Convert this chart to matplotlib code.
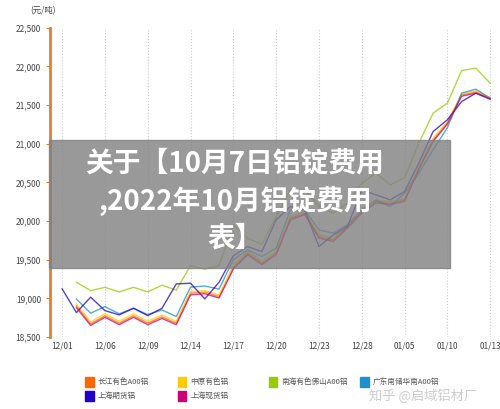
import matplotlib
matplotlib.use("Agg")
import matplotlib.pyplot as plt
from matplotlib.patches import Rectangle

plt.rcParams['font.family'] = ['Noto Sans CJK SC', 'DejaVu Sans']

dates = ["12/01", "12/06", "12/09", "12/14", "12/17", "12/20", "12/23", "12/28", "01/05", "01/10", "01/13"]
names = ["长江有色A00铝", "中原有色铝", "南海有色佛山A00铝", "广东南储华南A00铝", "上海期货铝", "上海现货铝"]
colors = ["#FF6600", "#FFCC00", "#99CC00", "#1E90CC", "#2200CC", "#CC0077"]

changjiang = [None, 18903, 18670, 18775, 18680, 18775, 18680, 18760, 18680, 19067, 19080, 19024, 19400,
              19584, 19455, 19584, 20037, 20102, 19800, 19757, 19930, 20123, 20253, 20231, 20274, 20685, 21050,
              21270, 21630, 21670, 21590]
zhongyuan = [None, 18925, 18695, 18800, 18705, 18800, 18705, 18785, 18705, 19090, 19100, 19045, 19420,
             19605, 19480, 19605, 20060, 20120, 19825, 19780, 19950, 20140, 20270, 20250, 20290, 20700, 21070,
             21285, 21645, 21685, 21600]
nanhai = [None, 19209, 19100, 19143, 19084, 19143, 19084, 19170, 19106, 19425, 19377, 19425, 19950,
          19778, 19700, 20058, 20404, 20404, 20188, 20102, 20230, 20490, 20620, 20468, 20560, 21008, 21396,
          21526, 21948, 21978, 21784]
guangdong = [None, 18990, 18808, 18894, 18800, 18872, 18790, 18850, 18765, 19145, 19160, 19120, 19500,
             19627, 19541, 19649, 20145, 20145, 19886, 19843, 19951, 20145, 20274, 20188, 20361, 20620, 20922,
             21206, 21655, 21707, 21590]
shfe = [19123, 18816, 19015, 18842, 18786, 18872, 18777, 18872, 19187, 19196, 18993, 19209, 19550,
        19670, 19605, 20016, 20188, 20145, 19670, 19821, 19929, 20404, 20339, 20274, 20382, 20749, 21158,
        21310, 21546, 21655, 21577]
shspot = [None, 18880, 18650, 18755, 18660, 18755, 18660, 18740, 18660, 19045, 19060, 19005, 19380,
          19565, 19435, 19565, 20015, 20085, 19780, 19735, 19910, 20105, 20235, 20215, 20255, 20665, 21030,
          21255, 21615, 21655, 21580]
series = [changjiang, zhongyuan, nanhai, guangdong, shfe, shspot]

fig = plt.figure(figsize=(5, 4.09), dpi=100)
ax = fig.add_axes([0.1, 0.176, 0.886, 0.756])
x = list(range(31))
for s, c in zip(series, colors):
    xs = [i for i, v in zip(x, s) if v is not None]
    ys = [v for v in s if v is not None]
    ax.plot(xs, ys, color=c, lw=1, alpha=0.75)

ax.set_xlim(-0.85, 30.2)
ax.set_ylim(18500, 22500)
ax.set_yticks(range(18500, 22501, 500))
ax.set_yticklabels([f"{v:,}" for v in range(18500, 22501, 500)], fontsize=6, color="#444444")
ax.set_xticks(range(0, 31, 3))
ax.set_xticklabels(dates, fontsize=6, color="#444444")
ax.grid(axis='x', color="#cccccc", ls=':', lw=0.8)
for sp in ["top", "right", "bottom"]:
    ax.spines[sp].set_visible(False)
ax.spines["left"].set_color("#E08030")
ax.spines["left"].set_linewidth(2)
ax.tick_params(axis='y', length=3, color="#E08030")
ax.tick_params(axis='x', length=0)
fig.text(0.06, 0.975, "(元/吨)", fontsize=6, color="#444444", va='center')

# legend
lx = [0.17, 0.355, 0.537, 0.72]
ly = [0.066, 0.032]
for i, (n, c) in enumerate(zip(names, colors)):
    r, col = divmod(i, 4)
    fig.patches.append(Rectangle((lx[col], ly[r] - 0.012), 0.017, 0.024, color=c, transform=fig.transFigure))
    fig.text(lx[col] + 0.026, ly[r], n, fontsize=5.5, color="#555555", va='center')
fig.text(0.738, 0.032, "知乎 @启域铝材厂", fontsize=9.5, color="#cccccc", va='center')

# overlay title box
fig.patches.append(Rectangle((0.098, 1 - 268 / 409), 0.802, 128 / 409, color="#808080", alpha=0.8,
                             transform=fig.transFigure, zorder=5))
title_lines = ["关于【10月7日铝锭费用", ",2022年10月铝锭费用", "表】"]
for t, yy in zip(title_lines, [163, 202, 238]):
    fig.text(0.47, 1 - yy / 409, t, fontsize=20, color="white", fontweight="bold",
             ha='center', va='center', zorder=6)

fig.savefig("out.png", dpi=100)
